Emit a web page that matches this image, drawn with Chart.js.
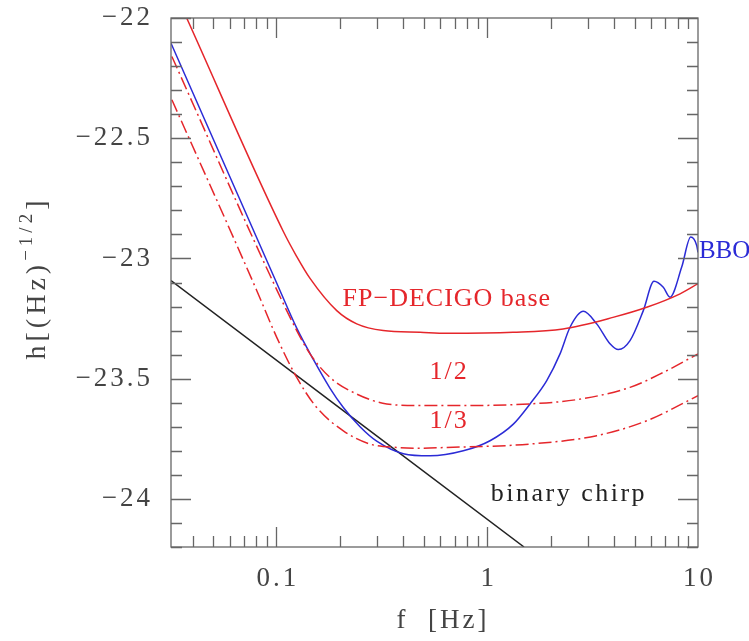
<!DOCTYPE html>
<html>
<head>
<meta charset="utf-8">
<script src="https://cdn.jsdelivr.net/npm/chart.js@4.4.0/dist/chart.umd.min.js"></script>
<style>
  html, body { margin: 0; padding: 0; background: #fff; }
</style>
</head>
<body>
<canvas id="chart" width="749" height="641"></canvas>
<script>
// values (f in Hz, h = log10 strain)
const xTicks = [0.1, 1, 10];
const yTicks = [-22, -22.5, -23, -23.5, -24];

const baseF = [0.0375, 0.1078, 0.1248, 0.1443, 0.1932, 0.2404, 0.321, 0.48, 0.643, 1.325, 2.29, 3.95, 5.71, 8.22, 10];
const baseH = [-22.0, -22.888, -22.992, -23.083, -23.217, -23.272, -23.3, -23.307, -23.311, -23.307, -23.293, -23.245, -23.203, -23.147, -23.105];

const halfF = [0.0319, 0.0932, 0.1248, 0.1443, 0.1796, 0.2404, 0.3336, 0.48, 0.643, 1.596, 2.755, 4.758, 6.845, 10];
const halfH = [-22.16, -23.07, -23.3, -23.397, -23.495, -23.564, -23.605, -23.612, -23.612, -23.605, -23.585, -23.536, -23.474, -23.397];

const thirdF = [0.0319, 0.0806, 0.1003, 0.1248, 0.1553, 0.2077, 0.278, 0.372, 0.48, 0.643, 1.596, 3.307, 5.71, 10];
const thirdH = [-22.34, -23.133, -23.328, -23.495, -23.62, -23.717, -23.772, -23.786, -23.789, -23.786, -23.772, -23.737, -23.675, -23.571];

const bboF = [0.0316, 0.1, 0.1248, 0.1496, 0.1796, 0.2077, 0.2492, 0.299, 0.4, 0.5355, 0.77, 1.031, 1.33, 1.596, 1.916, 2.215, 2.471, 2.857, 3.307, 3.824, 4.188, 4.758, 5.502, 6.184, 6.845, 7.365, 8.37, 9.235, 9.86, 10];
const bboH = [-22.105, -23.1, -23.29, -23.42, -23.54, -23.62, -23.7, -23.76, -23.812, -23.821, -23.8, -23.758, -23.689, -23.605, -23.508, -23.397, -23.286, -23.22, -23.272, -23.355, -23.379, -23.342, -23.217, -23.095, -23.12, -23.161, -23.036, -22.911, -22.946, -22.975];

const chirpF = [0.0316, 1.495];
const chirpH = [-23.092, -24.2];

const notes = [
  { text: 'FP\u2212DECIGO base', f: 0.643, h: -23.171, color: '#e5262b', align: 'center', spacing: 1 },
  { text: '1/2', f: 0.659, h: -23.471, color: '#e5262b', align: 'center', spacing: 2 },
  { text: '1/3', f: 0.659, h: -23.675, color: '#e5262b', align: 'center', spacing: 2 },
  { text: 'binary chirp', f: 2.44, h: -23.979, color: '#222', align: 'center', spacing: 2.5 },
  { text: 'BBO', f: 10.1, h: -22.971, color: '#2b2bd6', align: 'left', spacing: 0 }
];

const pts = (fs, hs) => fs.map((f, i) => ({ x: f, y: hs[i] }));
const RED = '#e5262b', BLUE = '#2b2bd6';
const line = (data, color, dash) => ({
  data, borderColor: color, borderWidth: 1.5, borderDash: dash || [],
  pointRadius: 0, fill: false, cubicInterpolationMode: 'monotone'
});

const SERIF = '"Liberation Serif", "DejaVu Serif", serif';

// frame, inward ticks and all text
const framePlugin = {
  id: 'frame',
  afterDraw(chart) {
    const { ctx, chartArea: a, scales: { x, y } } = chart;
    ctx.save();
    ctx.strokeStyle = '#666';
    ctx.lineWidth = 1.3;
    ctx.strokeRect(a.left, a.top, a.right - a.left, a.bottom - a.top);

    ctx.beginPath();
    // x ticks, top and bottom
    for (const d of [0.01, 0.1, 1]) {
      for (let k = 1; k <= 9; k++) {
        const v = k * d;
        if (v < x.min * 0.999 || v > x.max * 1.001) continue;
        const px = Math.round(x.getPixelForValue(v)) + 0.5;
        const len = k === 1 ? 20 : 11;
        ctx.moveTo(px, a.bottom); ctx.lineTo(px, a.bottom - len);
        ctx.moveTo(px, a.top); ctx.lineTo(px, a.top + len);
      }
    }
    // y ticks, left and right
    for (let i = 0; i <= 22; i++) {
      const v = -22 - i * 0.1;
      const py = Math.round(y.getPixelForValue(v)) + 0.5;
      const len = i % 5 === 0 ? 20 : 11;
      ctx.moveTo(a.left, py); ctx.lineTo(a.left + len, py);
      ctx.moveTo(a.right, py); ctx.lineTo(a.right - len, py);
    }
    ctx.stroke();

    // tick labels
    ctx.fillStyle = '#444';
    ctx.font = '27px ' + SERIF;
    ctx.letterSpacing = '3px';
    ctx.textBaseline = 'middle';
    ctx.textAlign = 'right';
    for (const v of yTicks) {
      ctx.fillText(String(v).replace('-', '\u2212'), 153, y.getPixelForValue(v));
    }
    ctx.textAlign = 'center';
    for (const v of xTicks) {
      ctx.fillText(String(v), x.getPixelForValue(v) + 1.5, 579);
    }

    // x title
    ctx.font = '27px ' + SERIF;
    ctx.fillText('f  [Hz]', 443, 621);

    // y title with superscript, rotated
    ctx.textAlign = 'left';
    ctx.textBaseline = 'alphabetic';
    const big = '28px ' + SERIF, small = '19px ' + SERIF;
    ctx.letterSpacing = '4px';
    const parts = [['h[(Hz)', big, 0], ['\u22121/2', small, -13], [']', big, 0]];
    const widths = parts.map(([t, f]) => { ctx.font = f; return ctx.measureText(t).width; });
    const total = widths.reduce((s, w) => s + w, 0);
    ctx.translate(45, 278 + total / 2);
    ctx.rotate(-Math.PI / 2);
    let cx = 0;
    parts.forEach(([t, f, dy], i) => { ctx.font = f; ctx.fillText(t, cx, dy); cx += widths[i]; });
    ctx.setTransform(1, 0, 0, 1, 0, 0);

    // curve labels
    ctx.textBaseline = 'middle';
    for (const n of notes) {
      ctx.font = (n.text === 'BBO' ? '25px ' : '26px ') + SERIF;
      ctx.letterSpacing = n.spacing + 'px';
      ctx.fillStyle = n.color;
      ctx.textAlign = n.align;
      ctx.fillText(n.text, x.getPixelForValue(n.f), y.getPixelForValue(n.h));
    }
    ctx.restore();
  }
};

new Chart(document.getElementById('chart'), {
  type: 'line',
  data: {
    datasets: [
      line(pts(baseF, baseH), RED),
      line(pts(halfF, halfH), RED, [13, 4, 2, 4]),
      line(pts(thirdF, thirdH), RED, [13, 4, 2, 4]),
      line(pts(bboF, bboH), BLUE),
      line(pts(chirpF, chirpH), '#222')
    ]
  },
  options: {
    responsive: false,
    animation: false,
    layout: { padding: { top: 18, right: 51, left: 0, bottom: 0 } },
    plugins: { legend: { display: false }, tooltip: { enabled: false } },
    scales: {
      x: {
        type: 'logarithmic', min: 0.0316, max: 10,
        ticks: { display: false }, grid: { display: false, drawTicks: false }, border: { display: false },
        afterBuildTicks: s => { s.ticks = xTicks.map(v => ({ value: v })); },
        afterFit: s => { s.height = 94; }
      },
      y: {
        type: 'linear', min: -24.2, max: -22,
        ticks: { display: false }, grid: { display: false, drawTicks: false }, border: { display: false },
        afterBuildTicks: s => { s.ticks = yTicks.map(v => ({ value: v })); },
        afterFit: s => { s.width = 171; }
      }
    }
  },
  plugins: [framePlugin]
});
</script>
</body>
</html>
